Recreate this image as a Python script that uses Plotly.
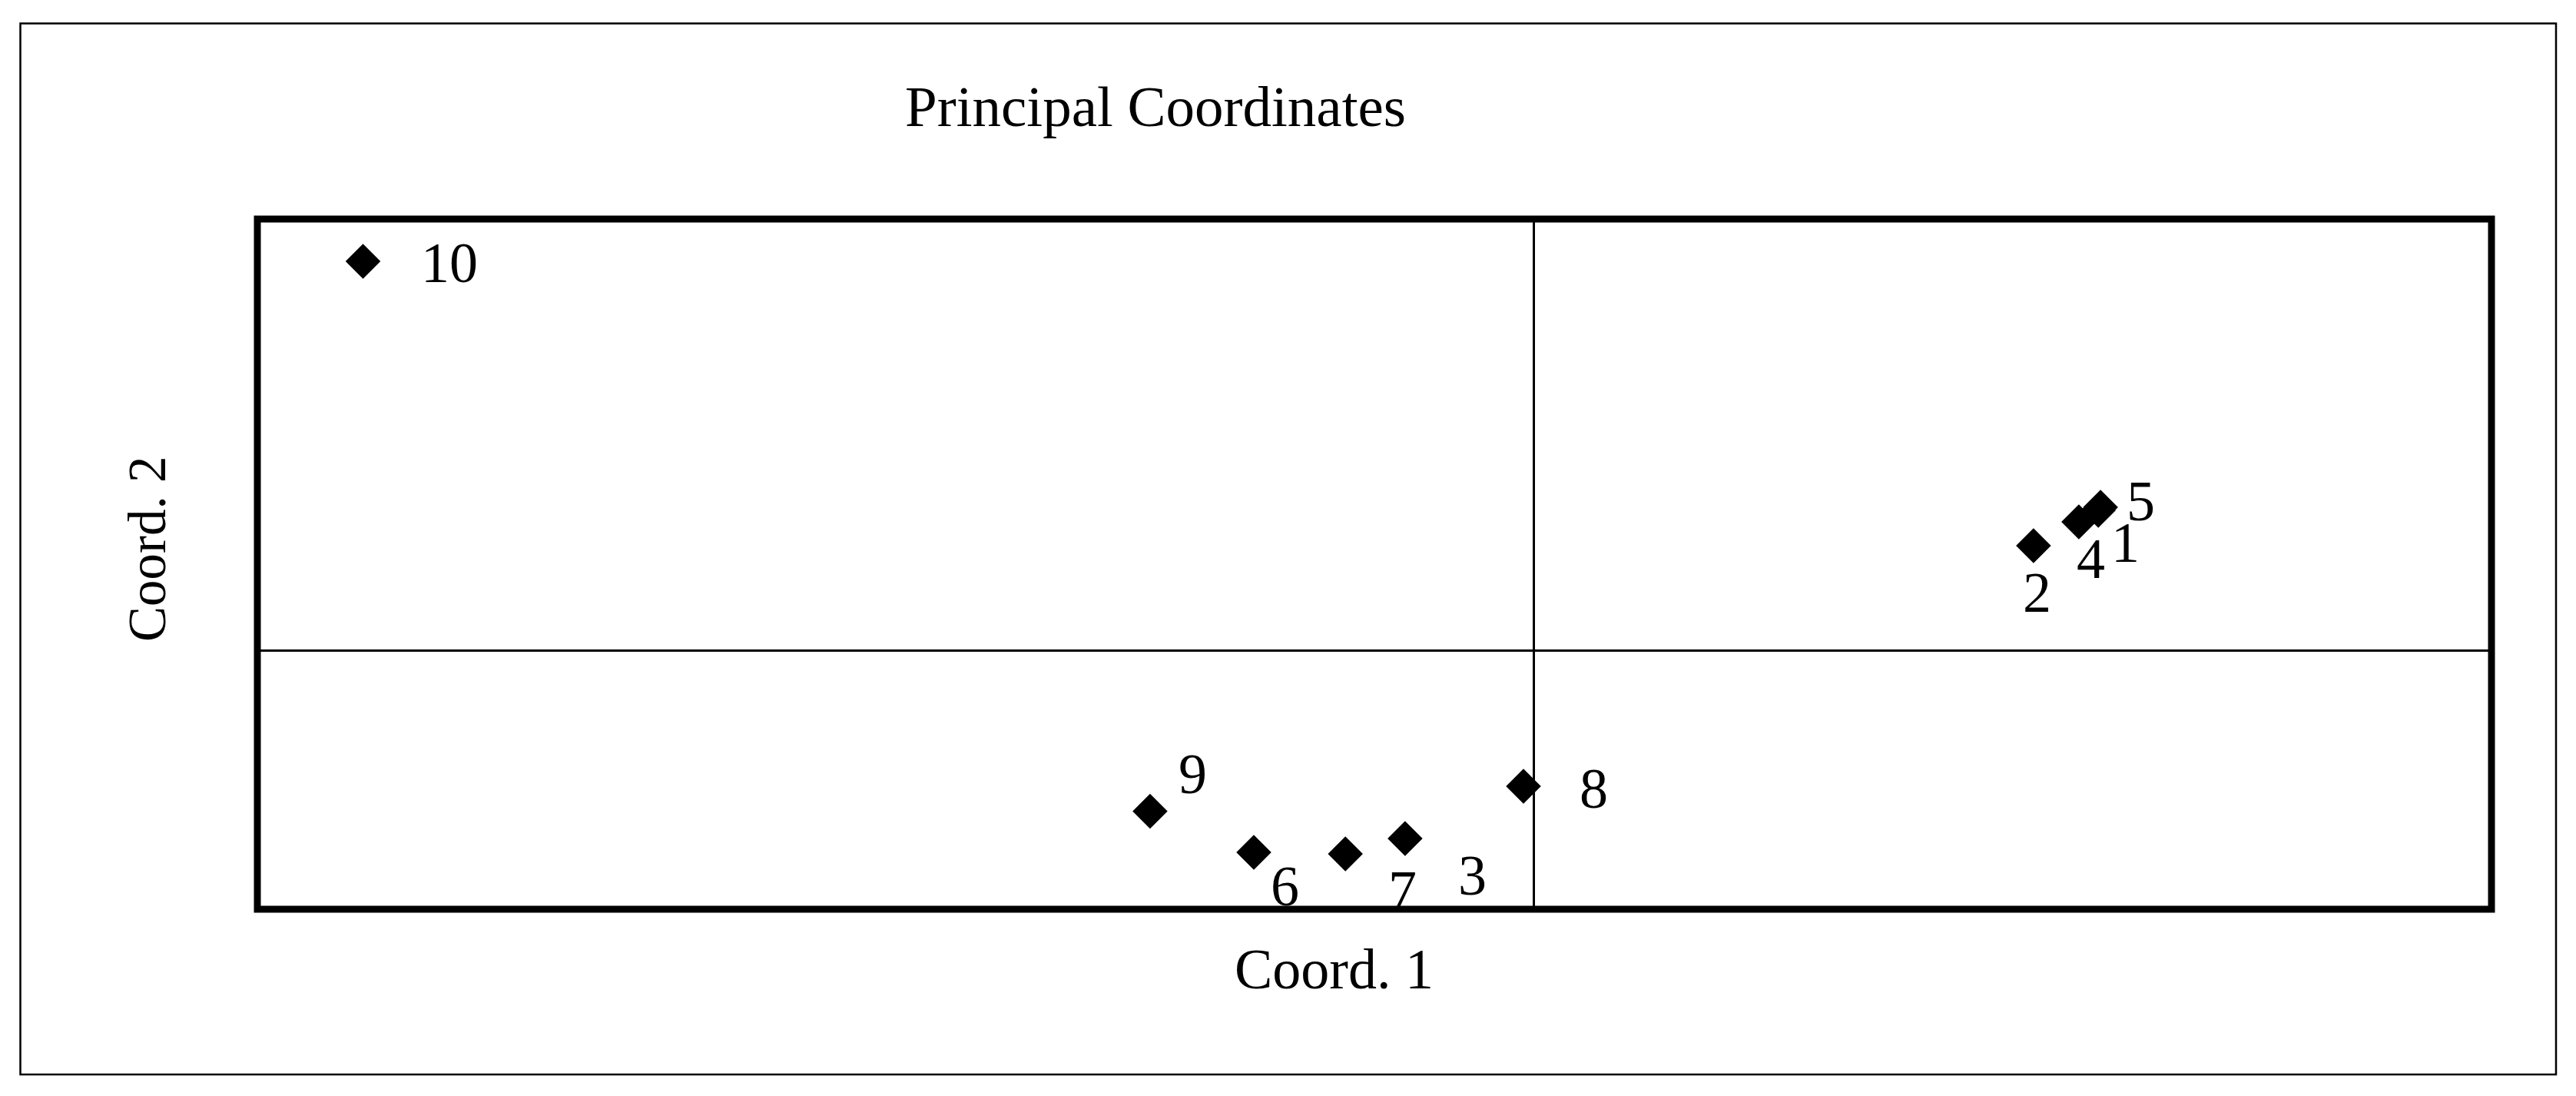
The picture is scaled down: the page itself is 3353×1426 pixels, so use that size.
import plotly.graph_objects as go

# ---- data ----
sample_ids = ["1", "2", "3", "4", "5", "6", "7", "8", "9", "10"]
coord1 = [0.1768, 0.1565, -0.0404, 0.1707, 0.1775, -0.0878, -0.0591, -0.0033, -0.1203, -0.3669]
coord2 = [0.1624, 0.1214, -0.2180, 0.1490, 0.1659, -0.2341, -0.2359, -0.1575, -0.1864, 0.4510]

title_text = "Principal Coordinates"
x_title = "Coord. 1"
y_title = "Coord. 2"

# label offsets in pixels (style)
label_dx = [35, 5, 88, 16, 52, 41, 74, 91, 56, 112]
label_dy = [-42, -61, -48, -48, 8, -44, -48, -3, 48, -2]

# page body has an 8px default margin; work in page pixels, convert to figure pixels
OFF = 8
PAGE_W, PAGE_H = 3353, 1426
W, H = PAGE_W - 2 * OFF, PAGE_H - 2 * OFF
L, R, T, B = 335 - OFF, 3243 - OFF, 285 - OFF, 1183 - OFF
FONT = "Liberation Serif, Times New Roman, serif"


def px_x(p):
    return (p - OFF - L) / (R - L)


def px_y(p):
    return (B - (p - OFF)) / (B - T)


fig = go.Figure()
fig.add_trace(go.Scatter(
    x=coord1, y=coord2, mode="markers",
    marker=dict(symbol="diamond", size=35, color="black", line=dict(width=0)),
    cliponaxis=False, showlegend=False, hoverinfo="skip",
))

annotations = []
for sid, xv, yv, dx, dy in zip(sample_ids, coord1, coord2, label_dx, label_dy):
    annotations.append(dict(
        x=xv, y=yv, xref="x", yref="y", text=sid, showarrow=False,
        xshift=dx, yshift=dy, xanchor="center", yanchor="middle",
        font=dict(family=FONT, size=74, color="black"),
    ))

annotations.append(dict(
    x=px_x(1504), y=px_y(138), xref="paper", yref="paper", text=title_text,
    showarrow=False, xanchor="center", yanchor="middle",
    font=dict(family=FONT, size=75, color="black"),
))
annotations.append(dict(
    x=px_x(1736), y=px_y(1261), xref="paper", yref="paper", text=x_title,
    showarrow=False, xanchor="center", yanchor="middle",
    font=dict(family=FONT, size=74, color="black"),
))
annotations.append(dict(
    x=px_x(192), y=px_y(714), xref="paper", yref="paper", text=y_title,
    showarrow=False, xanchor="center", yanchor="middle", textangle=-90,
    font=dict(family=FONT, size=69, color="black"),
))

shapes = [
    # plot frame
    dict(type="rect", xref="paper", yref="paper", x0=0, x1=1, y0=0, y1=1,
         line=dict(color="black", width=9), layer="above"),
    # outer border
    dict(type="rect", xref="paper", yref="paper",
         x0=px_x(26.5), x1=px_x(3327), y0=px_y(1398), y1=px_y(30.5),
         line=dict(color="black", width=2.5), layer="above"),
]

axis_common = dict(showgrid=False, showticklabels=False, ticks="", showline=False,
                   zeroline=True, zerolinecolor="black", zerolinewidth=3, fixedrange=True)

fig.update_layout(
    width=W, height=H,
    margin=dict(l=L, r=W - R, t=T, b=H - B, pad=0),
    paper_bgcolor="white", plot_bgcolor="white",
    xaxis=dict(range=[-0.4, 0.3], **axis_common),
    yaxis=dict(range=[-0.3, 0.5], **axis_common),
    annotations=annotations,
    shapes=shapes,
    showlegend=False,
)

fig.write_html("out.html")
